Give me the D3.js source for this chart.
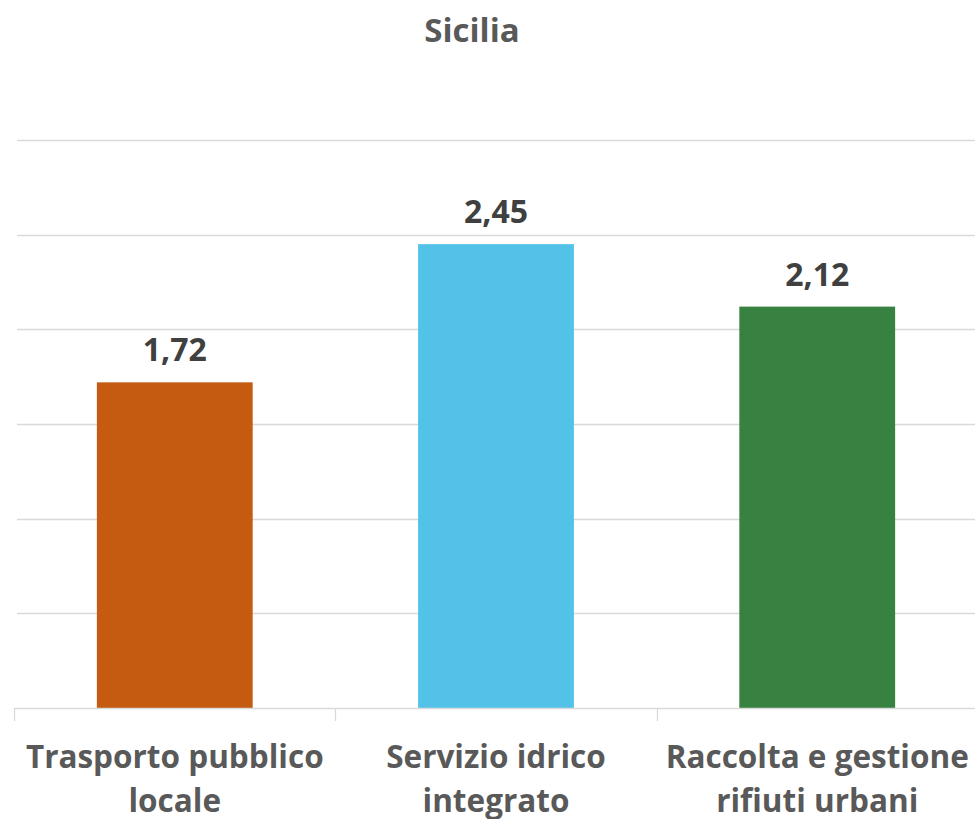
<!DOCTYPE html>
<html><head><meta charset="utf-8">
<script src="https://cdn.jsdelivr.net/npm/d3@7"></script>
<style>body{margin:0;background:#fff}</style>
</head><body>
<svg id="c" width="975" height="819"></svg>
<script>
const categories = [["Trasporto pubblico","locale"],["Servizio idrico","integrato"],["Raccolta e gestione","rifiuti urbani"]];
const values = [1.72, 2.45, 2.12];
const valueLabels = ["1,72","2,45","2,12"];
const colors = ["#C55A11","#52C2E8","#378141"];
const yTicks = [0,0.5,1,1.5,2,2.5,3];

const svg = d3.select("#c");
const m = {l:14, r:-3, t:140, b:111};
const W = 975, H = 819;
const x = d3.scaleBand().domain(d3.range(3)).range([m.l, W-m.r]).paddingInner(0.515).paddingOuter(0.258);
const xb = d3.scaleBand().domain(d3.range(3)).range([m.l, W-m.r]);
const y = d3.scaleLinear().domain([0,3]).range([H-m.b, m.t]);

svg.append("g").selectAll("line").data(yTicks.slice(1)).join("line")
  .attr("x1", m.l+3).attr("x2", W).attr("y1", d=>Math.round(y(d))+0.5).attr("y2", d=>Math.round(y(d))+0.5)
  .attr("stroke","#d9d9d9").attr("stroke-width",1.3);

svg.append("g").selectAll("rect").data(values).join("rect")
  .attr("x",(d,i)=>x(i)).attr("width",x.bandwidth())
  .attr("y",d=>y(d)).attr("height",d=>y(0)-y(d))
  .attr("fill",(d,i)=>colors[i]);

const ax = svg.append("g");
ax.append("line").attr("x1",m.l).attr("x2",W).attr("y1",y(0)+0.5).attr("y2",y(0)+0.5).attr("stroke","#d9d9d9").attr("stroke-width",1.3);
ax.selectAll("line.t").data([0,1,2]).join("line").attr("class","t")
  .attr("x1",i=>Math.round(xb(i))+0.5).attr("x2",i=>Math.round(xb(i))+0.5)
  .attr("y1",y(0)).attr("y2",y(0)+13).attr("stroke","#d9d9d9").attr("stroke-width",1.3);

const font = "'Open Sans', sans-serif";
svg.append("g").selectAll("text").data(values).join("text")
  .attr("x",(d,i)=>x(i)+x.bandwidth()/2).attr("y",d=>y(d)-21)
  .attr("text-anchor","middle").attr("font-family",font).attr("font-weight","bold")
  .attr("font-size",32).attr("fill","#404040").text((d,i)=>valueLabels[i]);

const cl = svg.append("g").selectAll("text").data(categories).join("text")
  .attr("text-anchor","middle").attr("font-family",font).attr("font-weight","bold")
  .attr("font-size",31.5).attr("fill","#595959");
cl.selectAll("tspan").data((d,i)=>d.map(s=>({s,i}))).join("tspan")
  .attr("x",d=>x(d.i)+x.bandwidth()/2).attr("y",(d,j)=>768+j*44).text(d=>d.s);

svg.append("text").attr("x",472).attr("y",42).attr("text-anchor","middle")
  .attr("font-family",font).attr("font-weight","bold").attr("font-size",33).attr("fill","#595959").text("Sicilia");
</script>
</body></html>
